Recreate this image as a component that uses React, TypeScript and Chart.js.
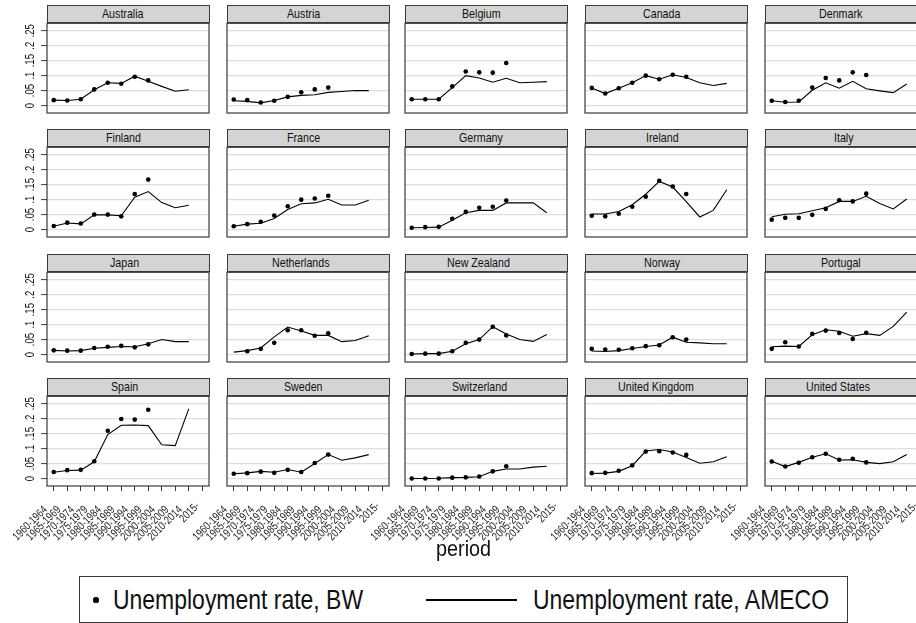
import React, { useEffect, useRef } from "react";
import { Chart, registerables } from "chart.js";

Chart.register(...registerables);

// ---------- data ----------
const PERIODS = [
  "1960-1964", "1965-1969", "1970-1974", "1975-1979", "1980-1984", "1985-1989",
  "1990-1994", "1995-1999", "2000-2004", "2005-2009", "2010-2014", "2015-",
];
const Y_TICKS = [0, 0.05, 0.1, 0.15, 0.2, 0.25];
const Y_TICK_LABELS = ["0", ".05", ".1", ".15", ".2", ".25"];
const X_TITLE = "period";
const LEGEND_BW = "Unemployment rate, BW";
const LEGEND_AMECO = "Unemployment rate, AMECO";

const australiaBW = [0.018, 0.017, 0.021, 0.054, 0.076, 0.073, 0.096, 0.084];
const australiaAMECO = [0.018, 0.017, 0.021, 0.053, 0.076, 0.074, 0.098, 0.081, 0.064, 0.048, 0.053];
const austriaBW = [0.02, 0.018, 0.01, 0.016, 0.029, 0.044, 0.054, 0.06];
const austriaAMECO = [0.016, 0.014, 0.009, 0.017, 0.029, 0.034, 0.036, 0.044, 0.047, 0.05, 0.05];
const belgiumBW = [0.021, 0.021, 0.021, 0.064, 0.114, 0.111, 0.11, 0.142];
const belgiumAMECO = [0.021, 0.021, 0.021, 0.06, 0.1, 0.092, 0.078, 0.091, 0.076, 0.078, 0.08];
const canadaBW = [0.059, 0.04, 0.058, 0.076, 0.1, 0.088, 0.103, 0.096];
const canadaAMECO = [0.059, 0.04, 0.058, 0.076, 0.1, 0.088, 0.103, 0.094, 0.076, 0.067, 0.074];
const denmarkBW = [0.016, 0.012, 0.016, 0.06, 0.092, 0.084, 0.111, 0.102];
const denmarkAMECO = [0.016, 0.011, 0.012, 0.051, 0.076, 0.058, 0.081, 0.056, 0.049, 0.043, 0.072];
const finlandBW = [0.012, 0.023, 0.02, 0.05, 0.05, 0.044, 0.119, 0.167];
const finlandAMECO = [0.011, 0.022, 0.019, 0.049, 0.049, 0.046, 0.108, 0.127, 0.09, 0.073, 0.081];
const franceBW = [0.011, 0.018, 0.026, 0.047, 0.078, 0.1, 0.104, 0.113];
const franceAMECO = [0.011, 0.018, 0.021, 0.037, 0.067, 0.086, 0.089, 0.101, 0.082, 0.082, 0.098];
const germanyBW = [0.006, 0.008, 0.009, 0.036, 0.059, 0.073, 0.076, 0.097];
const germanyAMECO = [0.006, 0.007, 0.008, 0.031, 0.056, 0.064, 0.064, 0.089, 0.089, 0.089, 0.056];
const irelandBW = [0.046, 0.044, 0.053, 0.076, 0.11, 0.163, 0.144, 0.119];
const irelandAMECO = [0.052, 0.052, 0.06, 0.083, 0.118, 0.161, 0.142, 0.093, 0.042, 0.064, 0.133];
const italyBW = [0.033, 0.039, 0.039, 0.049, 0.069, 0.098, 0.094, 0.12];
const italyAMECO = [0.043, 0.051, 0.053, 0.063, 0.073, 0.094, 0.094, 0.111, 0.087, 0.069, 0.102];
const japanBW = [0.014, 0.013, 0.013, 0.022, 0.026, 0.029, 0.024, 0.034];
const japanAMECO = [0.014, 0.012, 0.013, 0.021, 0.024, 0.027, 0.026, 0.036, 0.05, 0.043, 0.043];
const netherlandsBW = [null, 0.011, 0.019, 0.039, 0.081, 0.081, 0.063, 0.071];
const netherlandsAMECO = [0.008, 0.013, 0.022, 0.059, 0.092, 0.079, 0.064, 0.064, 0.043, 0.047, 0.063];
const newZealandBW = [0.002, 0.003, 0.003, 0.011, 0.039, 0.05, 0.093, 0.064];
const newZealandAMECO = [0.002, 0.003, 0.003, 0.011, 0.036, 0.05, 0.093, 0.069, 0.05, 0.044, 0.067];
const norwayBW = [0.019, 0.017, 0.016, 0.021, 0.028, 0.031, 0.058, 0.05];
const norwayAMECO = [0.012, 0.01, 0.013, 0.02, 0.027, 0.032, 0.058, 0.041, 0.039, 0.036, 0.036];
const portugalBW = [0.019, 0.041, 0.027, 0.069, 0.08, 0.072, 0.052, 0.073];
const portugalAMECO = [0.026, 0.028, 0.027, 0.066, 0.083, 0.078, 0.061, 0.07, 0.064, 0.094, 0.142];
const spainBW = [0.022, 0.028, 0.029, 0.058, 0.16, 0.199, 0.197, 0.23];
const spainAMECO = [0.021, 0.027, 0.028, 0.056, 0.147, 0.178, 0.179, 0.177, 0.113, 0.11, 0.233];
const swedenBW = [0.016, 0.018, 0.023, 0.019, 0.029, 0.022, 0.052, 0.08];
const swedenAMECO = [0.016, 0.019, 0.024, 0.021, 0.03, 0.021, 0.05, 0.08, 0.061, 0.069, 0.08];
const switzerlandBW = [0, 0, 0, 0.003, 0.004, 0.007, 0.024, 0.041];
const switzerlandAMECO = [0, 0, 0.001, 0.003, 0.004, 0.006, 0.024, 0.032, 0.032, 0.038, 0.041];
const ukBW = [0.018, 0.019, 0.026, 0.044, 0.09, 0.091, 0.087, 0.079];
const ukAMECO = [0.017, 0.018, 0.024, 0.043, 0.092, 0.097, 0.089, 0.07, 0.051, 0.056, 0.073];
const usBW = [0.057, 0.04, 0.053, 0.071, 0.083, 0.063, 0.066, 0.054];
const usAMECO = [0.058, 0.04, 0.054, 0.071, 0.083, 0.062, 0.063, 0.054, 0.05, 0.056, 0.08];

const PANELS: { name: string; bw: (number | null)[]; ameco: (number | null)[] }[] = [
  { name: "Australia", bw: australiaBW, ameco: australiaAMECO },
  { name: "Austria", bw: austriaBW, ameco: austriaAMECO },
  { name: "Belgium", bw: belgiumBW, ameco: belgiumAMECO },
  { name: "Canada", bw: canadaBW, ameco: canadaAMECO },
  { name: "Denmark", bw: denmarkBW, ameco: denmarkAMECO },
  { name: "Finland", bw: finlandBW, ameco: finlandAMECO },
  { name: "France", bw: franceBW, ameco: franceAMECO },
  { name: "Germany", bw: germanyBW, ameco: germanyAMECO },
  { name: "Ireland", bw: irelandBW, ameco: irelandAMECO },
  { name: "Italy", bw: italyBW, ameco: italyAMECO },
  { name: "Japan", bw: japanBW, ameco: japanAMECO },
  { name: "Netherlands", bw: netherlandsBW, ameco: netherlandsAMECO },
  { name: "New Zealand", bw: newZealandBW, ameco: newZealandAMECO },
  { name: "Norway", bw: norwayBW, ameco: norwayAMECO },
  { name: "Portugal", bw: portugalBW, ameco: portugalAMECO },
  { name: "Spain", bw: spainBW, ameco: spainAMECO },
  { name: "Sweden", bw: swedenBW, ameco: swedenAMECO },
  { name: "Switzerland", bw: switzerlandBW, ameco: switzerlandAMECO },
  { name: "United Kingdom", bw: ukBW, ameco: ukAMECO },
  { name: "United States", bw: usBW, ameco: usAMECO },
];

// ---------- layout / style ----------
const FONT = "'Liberation Sans', Arial, sans-serif";
const SQUEEZE = 0.79; // narrow text rendering as in the reference
const NCOL = 5;
const NROW = 4;
const PLOT_LEFT = [47, 227, 405, 585, 765];
const PLOT_TOP = [23, 147, 272, 396];
const PLOT_W = 162;
const PLOT_H = 90;
const Y_MIN = -0.025;
const Y_MAX = 0.275;
const Y_AXIS_W = 47;
const PAD_T = 2;
const PAD_R = 3;
const PAD_B = 3;
const X_AXIS_H = 62;
const STRIP_H = 18;
const FRAME = "#3a3a3a";
const GRID = "#dedede";
const STRIP_BG = "#d4d4d4";

Chart.defaults.font.family = FONT;

function squeezeText(ctx: CanvasRenderingContext2D, k: number) {
  const anyCtx = ctx as any;
  if (anyCtx.__squeezed) return;
  anyCtx.__squeezed = true;
  const orig = ctx.fillText.bind(ctx);
  anyCtx.fillText = (text: string, x: number, y: number) => {
    const align = ctx.textAlign;
    const w = ctx.measureText(text).width;
    let start = x;
    if (align === "right" || align === "end") start = x - w;
    else if (align === "center") start = x - (k * w) / 2;
    ctx.save();
    ctx.translate(start, y);
    ctx.scale(k, 1);
    ctx.textAlign = "left";
    orig(text, 0, 0);
    ctx.restore();
  };
}

const framePlugin = {
  id: "panelFrame",
  afterDraw(chart: any) {
    const { ctx, chartArea: a } = chart;
    ctx.save();
    ctx.strokeStyle = FRAME;
    ctx.lineWidth = 1.2;
    ctx.strokeRect(a.left, a.top, a.right - a.left, a.bottom - a.top);
    ctx.restore();
  },
};

function Panel({ row, col, name, bw, ameco }: { row: number; col: number; name: string; bw: (number | null)[]; ameco: (number | null)[] }) {
  const ref = useRef<HTMLCanvasElement>(null);
  const isLeft = col === 0;
  const isBottom = row === NROW - 1;
  const w = Y_AXIS_W + PLOT_W + PAD_R;
  const h = PAD_T + PLOT_H + (isBottom ? X_AXIS_H : PAD_B);

  useEffect(() => {
    const canvas = ref.current!;
    const ctx = canvas.getContext("2d")!;
    squeezeText(ctx, SQUEEZE);
    const chart = new Chart(canvas, {
      type: "line",
      data: {
        labels: PERIODS,
        datasets: [
          {
            label: LEGEND_BW,
            data: bw,
            showLine: false,
            pointRadius: 2.3,
            pointHoverRadius: 2.3,
            pointBackgroundColor: "#000",
            pointBorderWidth: 0,
            borderColor: "#000",
          },
          {
            label: LEGEND_AMECO,
            data: ameco,
            borderColor: "#000",
            borderWidth: 1.1,
            pointRadius: 0,
            pointHoverRadius: 0,
            fill: false,
            tension: 0,
          },
        ],
      },
      options: {
        responsive: false,
        animation: false,
        devicePixelRatio: 1,
        events: [],
        layout: { padding: { left: 0, top: PAD_T, right: PAD_R, bottom: isBottom ? 0 : PAD_B } },
        plugins: { legend: { display: false }, tooltip: { enabled: false }, title: { display: false } },
        scales: {
          x: {
            type: "category",
            offset: true,
            display: isBottom,
            grid: { drawOnChartArea: false, drawTicks: true, tickLength: 5, tickColor: FRAME, tickWidth: 1 },
            border: { display: false },
            ticks: {
              autoSkip: false,
              minRotation: 45,
              maxRotation: 45,
              padding: 4,
              color: "#222",
              font: { family: FONT, size: 11.5 },
            },
            afterFit: (s: any) => {
              if (isBottom) s.height = X_AXIS_H;
              s.paddingLeft = 0;
              s.paddingRight = 0;
            },
          },
          y: {
            type: "linear",
            min: Y_MIN,
            max: Y_MAX,
            afterBuildTicks: (s: any) => {
              s.ticks = Y_TICKS.map((v) => ({ value: v }));
            },
            grid: { color: GRID, lineWidth: 1.2, drawTicks: isLeft, tickLength: 6, tickColor: FRAME, tickWidth: 1 },
            border: { display: false },
            ticks: {
              display: isLeft,
              autoSkip: false,
              minRotation: 90,
              maxRotation: 90,
              crossAlign: "center",
              padding: 2,
              color: "#111",
              font: { family: FONT, size: 12 },
              callback: (_v: any, i: number) => Y_TICK_LABELS[i],
            },
            afterFit: (s: any) => {
              s.width = Y_AXIS_W;
              s.paddingTop = 0;
              s.paddingBottom = 0;
            },
          },
        },
      } as any,
      plugins: [framePlugin],
    });
    return () => chart.destroy();
  }, []);

  return (
    <>
      <canvas
        ref={ref}
        width={w}
        height={h}
        style={{ position: "absolute", left: PLOT_LEFT[col] - Y_AXIS_W, top: PLOT_TOP[row] - PAD_T, width: w, height: h }}
      />
      <div
        style={{
          position: "absolute",
          left: PLOT_LEFT[col],
          top: PLOT_TOP[row] - STRIP_H,
          width: PLOT_W + 1,
          height: STRIP_H,
          boxSizing: "border-box",
          border: `1px solid ${FRAME}`,
          background: STRIP_BG,
          textAlign: "center",
          whiteSpace: "nowrap",
          fontFamily: FONT,
          fontSize: 13.5,
          lineHeight: "16px",
          color: "#111",
        }}
      >
        <span style={{ display: "inline-block", transform: `scaleX(${SQUEEZE})`, transformOrigin: "left center" }}>{name}</span>
      </div>
    </>
  );
}

export default function App() {
  return (
    <div
      style={{
        position: "fixed",
        left: 0,
        top: 0,
        width: 916,
        height: 623,
        overflow: "hidden",
        background: "#fff",
      }}
    >
      {PANELS.map((p, i) => (
        <Panel key={p.name} row={Math.floor(i / NCOL)} col={i % NCOL} name={p.name} bw={p.bw} ameco={p.ameco} />
      ))}
      <div
        style={{
          position: "absolute",
          left: 0,
          top: 538,
          width: 927,
          textAlign: "center",
          whiteSpace: "nowrap",
          fontFamily: FONT,
          fontSize: 22,
          lineHeight: "22px",
          color: "#111",
        }}
      >
        <span style={{ display: "inline-block", transform: "scaleX(0.9)", transformOrigin: "center center" }}>{X_TITLE}</span>
      </div>
      <div
        style={{
          position: "absolute",
          left: 79,
          top: 576,
          width: 769,
          height: 47,
          boxSizing: "border-box",
          border: `1px solid ${FRAME}`,
          background: "#fff",
        }}
      />
      <div style={{ position: "absolute", left: 93.4, top: 597.4, width: 5.2, height: 5.2, borderRadius: "50%", background: "#000" }} />
      <div
        style={{ position: "absolute", left: 112.7, top: 586.3, whiteSpace: "nowrap", fontFamily: FONT, fontSize: 28, lineHeight: "28px", color: "#111", transform: "scaleX(0.82)", transformOrigin: "left center" }}
      >
        {LEGEND_BW}
      </div>
      <div style={{ position: "absolute", left: 426, top: 599.4, width: 91, height: 1.3, background: "#000" }} />
      <div
        style={{ position: "absolute", left: 533, top: 586.3, whiteSpace: "nowrap", fontFamily: FONT, fontSize: 28, lineHeight: "28px", color: "#111", transform: "scaleX(0.82)", transformOrigin: "left center" }}
      >
        {LEGEND_AMECO}
      </div>
    </div>
  );
}
